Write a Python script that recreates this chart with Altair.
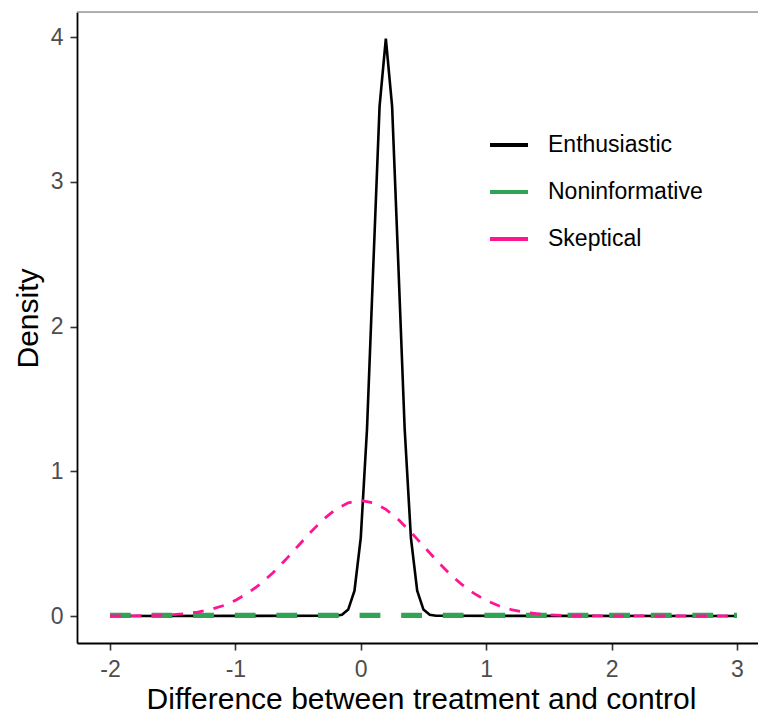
import altair as alt
import pandas as pd

# ---- data ----
series_names = ["Enthusiastic", "Noninformative", "Skeptical"]
series_colors = ["#000000", "#31A354", "#FF1493"]

enth_x = [-2.0, -0.2, -0.15, -0.1, -0.05, 0.0, 0.05, 0.1, 0.15, 0.2,
          0.25, 0.3, 0.35, 0.4, 0.45, 0.5, 0.55, 0.6, 3.0]
enth_y = [0.0, 0.0013, 0.0087, 0.0443, 0.175, 0.540, 1.295, 2.420, 3.521, 3.989,
          3.521, 2.420, 1.295, 0.540, 0.175, 0.0443, 0.0087, 0.0013, 0.0]

nonin_x = [-2.0, -1.0, 0.0, 1.0, 2.0, 3.0]
nonin_y = [0.004, 0.004, 0.004, 0.004, 0.004, 0.004]

skep_x = [-2.0, -1.9, -1.8, -1.7, -1.6, -1.5, -1.4, -1.3, -1.2, -1.1,
          -1.0, -0.9, -0.8, -0.7, -0.6, -0.5, -0.4, -0.3, -0.2, -0.1,
          0.0, 0.1, 0.2, 0.3, 0.4, 0.5, 0.6, 0.7, 0.8, 0.9,
          1.0, 1.1, 1.2, 1.3, 1.4, 1.5, 1.6, 1.7, 1.8, 1.9,
          2.0, 3.0]
skep_y = [0.0003, 0.0006, 0.0012, 0.0025, 0.0048, 0.0089, 0.0158, 0.0272, 0.0448, 0.0710,
          0.108, 0.158, 0.222, 0.299, 0.388, 0.484, 0.579, 0.666, 0.737, 0.782,
          0.798, 0.782, 0.737, 0.666, 0.579, 0.484, 0.388, 0.299, 0.222, 0.158,
          0.108, 0.0710, 0.0448, 0.0272, 0.0158, 0.0089, 0.0048, 0.0025, 0.0012, 0.0006,
          0.0003, 0.0]

x_ticks = [-2, -1, 0, 1, 2, 3]
y_ticks = [0, 1, 2, 3, 4]

rows = []
for xs, ys, name in [(enth_x, enth_y, "Enthusiastic"),
                     (nonin_x, nonin_y, "Noninformative"),
                     (skep_x, skep_y, "Skeptical")]:
    for i, (a, b) in enumerate(zip(xs, ys)):
        rows.append({"x": a, "y": b, "prior": name, "order": i})
df = pd.DataFrame(rows)

FONT = "Liberation Sans"
W, H = 681, 631

xscale = alt.Scale(domain=[-2.263, 3.168], nice=False, zero=False)
yscale = alt.Scale(domain=[-0.1865, 4.173], nice=False, zero=False)
cscale = alt.Scale(domain=series_names, range=series_colors)

xaxis = alt.Axis(values=x_ticks, labelExpr="'' + datum.value", grid=False,
                 title="Difference between treatment and control",
                 titleFontSize=30, titleFont=FONT, titleFontWeight="normal",
                 titleColor="#000000", titleBaseline="alphabetic", titleY=65,
                 titleX=344,
                 labelFontSize=23, labelFont=FONT, labelColor="#4D4D4D",
                 labelPadding=8, tickSize=7, tickWidth=1.6, tickColor="#333333",
                 domainColor="#000000", domainWidth=1.8)
yaxis = alt.Axis(values=y_ticks, grid=False, title="Density",
                 titleFontSize=30, titleFont=FONT, titleFontWeight="normal",
                 titleColor="#000000", titleBaseline="alphabetic", titleX=-40,
                 titleY=306, titleAlign="center",
                 labelFontSize=23, labelFont=FONT, labelColor="#4D4D4D",
                 labelPadding=7, tickSize=7, tickWidth=1.6, tickColor="#333333",
                 domainColor="#000000", domainWidth=1.8)

legend = alt.Legend(title=None, orient="none", legendX=411, legendY=112,
                    symbolType="stroke", symbolSize=1444, symbolStrokeWidth=3.8,
                    symbolDash=[1, 0],
                    labelFontSize=23, labelFont=FONT, labelColor="#000000",
                    labelOffset=18, rowPadding=14, padding=0)

base = alt.Chart(df).encode(
    x=alt.X("x:Q", scale=xscale, axis=xaxis),
    y=alt.Y("y:Q", scale=yscale, axis=yaxis),
    color=alt.Color("prior:N", scale=cscale, legend=legend),
    order="order:Q",
)

green = base.transform_filter(alt.datum.prior == "Noninformative").mark_line(
    strokeWidth=5.2, strokeDash=[20.8, 20.8], strokeCap="butt")
black = base.transform_filter(alt.datum.prior == "Enthusiastic").mark_line(
    strokeWidth=2.6)
pink = base.transform_filter(alt.datum.prior == "Skeptical").mark_line(
    strokeWidth=2.8, strokeDash=[10.8, 10.0], strokeCap="butt")

top_line = alt.Chart(pd.DataFrame({"k": [0]})).mark_rule(
    color="#9A9A9A", strokeWidth=1.5).encode(
    x=alt.value(0), x2=alt.value(W), y=alt.value(0))

chart = alt.layer(black, green, pink, top_line).properties(
    width=W, height=H,
    autosize=alt.AutoSizeParams(type="none"),
    padding={"left": 77, "top": 12, "right": 0, "bottom": 73},
).configure_view(stroke=None).configure(background="#FFFFFF")

chart.save("out.html", embed_options={"renderer": "svg", "actions": False})
